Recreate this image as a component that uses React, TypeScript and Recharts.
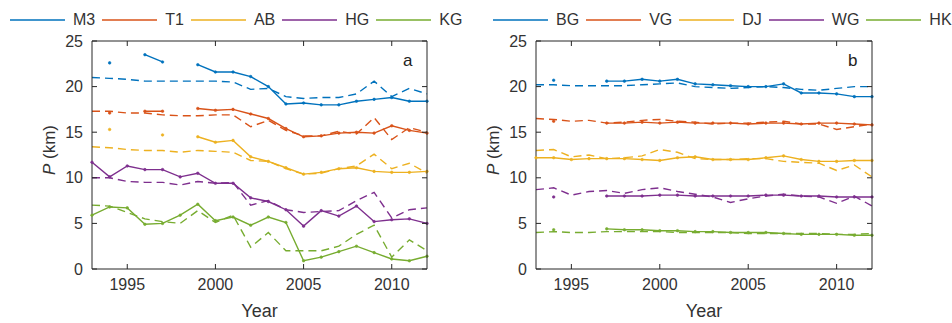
import React from 'react';
import { LineChart, Line, XAxis, YAxis } from 'recharts';

const YEARS = [1993, 1994, 1995, 1996, 1997, 1998, 1999, 2000, 2001, 2002, 2003, 2004, 2005, 2006, 2007, 2008, 2009, 2010, 2011, 2012];
const X_TICKS = [1995, 2000, 2005, 2010];
const Y_TICKS = [0, 5, 10, 15, 20, 25];
const X_DOMAIN = [1993, 2012];
const Y_DOMAIN = [0, 25];
const COLORS = ['#0072BD', '#D95319', '#EDB120', '#7E2F8E', '#77AC30'];

// Panel a
const NAMES_A = ['M3', 'T1', 'AB', 'HG', 'KG'];
const M3_OBS = [null, 22.6, null, 23.5, 22.7, null, 22.4, 21.6, 21.6, 21.1, 20.0, 18.1, 18.2, 18.0, 18.0, 18.4, 18.6, 18.8, 18.4, 18.4];
const M3_MOD = [21.0, 20.9, 20.8, 20.6, 20.6, 20.6, 20.6, 20.6, 20.5, 19.7, 19.8, 18.9, 18.7, 18.8, 18.8, 19.2, 20.6, 18.9, 19.8, 19.2];
const T1_OBS = [null, 17.1, null, 17.3, 17.3, null, 17.6, 17.4, 17.5, 17.0, 16.5, 15.4, 14.5, 14.6, 14.9, 15.0, 14.9, 15.7, 15.2, 14.9];
const T1_MOD = [17.3, 17.3, 17.1, 17.1, 16.9, 16.8, 16.8, 16.9, 16.9, 15.6, 16.3, 15.2, 14.6, 14.6, 15.1, 14.8, 16.6, 14.2, 15.5, 15.0];
const AB_OBS = [null, 15.3, null, null, 14.7, null, 14.5, 13.9, 14.1, 12.3, 11.8, 11.1, 10.4, 10.6, 11.0, 11.1, 10.7, 10.6, 10.6, 10.7];
const AB_MOD = [13.4, 13.3, 13.1, 13.0, 13.0, 12.8, 13.0, 12.9, 12.8, 11.9, 11.8, 11.0, 10.4, 10.5, 11.0, 11.3, 12.6, 11.0, 11.6, 10.5];
const HG_OBS = [11.7, 10.1, 11.3, 10.9, 10.9, 10.1, 10.5, 9.4, 9.4, 7.8, 7.4, 6.5, 4.7, 6.4, 5.8, 6.9, 5.2, 5.4, 5.5, 5.0];
const HG_MOD = [10.0, 10.0, 9.6, 9.5, 9.5, 9.2, 9.6, 9.4, 9.5, 7.0, 7.5, 6.5, 6.2, 6.3, 6.4, 7.5, 8.4, 5.6, 6.5, 6.7];
const KG_OBS = [5.9, 6.8, 6.7, 4.9, 5.0, 5.9, 7.1, 5.3, 5.7, 4.8, 5.7, 5.1, 0.9, 1.3, 1.9, 2.5, 1.8, 1.1, 0.9, 1.4];
const KG_MOD = [7.0, 6.9, 6.2, 5.5, 5.2, 5.0, 6.4, 5.1, 5.9, 2.4, 4.0, 2.0, 2.0, 2.0, 2.5, 3.8, 4.8, 1.3, 3.2, 2.0];

// Panel b
const NAMES_B = ['BG', 'VG', 'DJ', 'WG', 'HK'];
const BG_OBS = [null, 20.7, null, null, 20.6, 20.6, 20.8, 20.6, 20.8, 20.3, 20.2, 20.1, 20.0, 20.0, 20.3, 19.3, 19.3, 19.2, 18.9, 18.9];
const BG_MOD = [20.2, 20.2, 20.1, 20.1, 20.1, 20.1, 20.2, 20.3, 20.4, 20.0, 19.9, 19.8, 19.9, 20.0, 19.9, 19.7, 19.6, 19.8, 20.0, 20.0];
const VG_OBS = [null, 16.2, null, null, 16.0, 16.0, 16.1, 16.0, 16.1, 16.0, 16.0, 16.0, 15.9, 16.0, 16.0, 15.9, 16.0, 16.0, 15.9, 15.8];
const VG_MOD = [16.5, 16.4, 16.2, 16.3, 16.0, 16.1, 16.3, 16.4, 16.2, 16.1, 15.9, 16.0, 16.0, 16.1, 16.2, 15.9, 15.9, 15.3, 15.6, 15.9];
const DJ_OBS = [12.2, 12.2, 12.0, 12.1, 12.1, 12.1, 12.0, 11.9, 12.2, 12.3, 12.0, 12.0, 12.0, 12.2, 12.4, 12.0, 11.8, 11.8, 11.9, 11.9];
const DJ_MOD = [13.0, 13.1, 12.3, 12.5, 12.1, 12.2, 12.4, 13.1, 12.8, 12.1, 12.0, 12.0, 12.1, 12.1, 11.8, 11.7, 11.6, 10.8, 11.4, 10.1];
const WG_OBS = [null, 7.9, null, null, 8.0, 8.0, 8.0, 8.1, 8.1, 8.0, 8.0, 8.0, 8.0, 8.1, 8.1, 8.0, 8.0, 7.9, 7.9, 7.9];
const WG_MOD = [8.7, 8.9, 8.1, 8.5, 8.6, 8.3, 8.7, 8.9, 8.5, 8.2, 7.9, 7.3, 7.7, 8.0, 8.2, 8.0, 7.9, 7.2, 8.0, 6.9];
const HK_OBS = [null, 4.3, null, null, 4.4, 4.3, 4.3, 4.2, 4.2, 4.1, 4.1, 4.0, 4.0, 4.0, 3.9, 3.8, 3.8, 3.8, 3.7, 3.7];
const HK_MOD = [4.0, 4.1, 4.0, 4.0, 4.1, 4.1, 4.1, 4.1, 4.0, 4.0, 4.0, 4.0, 3.9, 3.9, 3.9, 3.9, 3.9, 3.8, 3.8, 3.9];

const OBS_A = [M3_OBS, T1_OBS, AB_OBS, HG_OBS, KG_OBS];
const MOD_A = [M3_MOD, T1_MOD, AB_MOD, HG_MOD, KG_MOD];
const OBS_B = [BG_OBS, VG_OBS, DJ_OBS, WG_OBS, HK_OBS];
const MOD_B = [BG_MOD, VG_MOD, DJ_MOD, WG_MOD, HK_MOD];

const FONT = '"Liberation Sans", Arial, Helvetica, sans-serif';
const AXIS_COLOR = '#262626';
const TEXT_COLOR = '#333333';

const CHART_W = 476;
const CHART_H = 323;
const M_TOP = 41;
const M_BOTTOM = 24;
const X_AXIS_H = 30;
const Y_AXIS_W = 40;

function buildRows(names: string[], obs: (number | null)[][], mod: (number | null)[][]) {
  return YEARS.map((yr, i) => {
    const row: any = { year: yr };
    names.forEach((n, k) => {
      row[n + '_obs'] = obs[k][i];
      row[n + '_mod'] = mod[k][i];
    });
    return row;
  });
}

const ROWS_A = buildRows(NAMES_A, OBS_A, MOD_A);
const ROWS_B = buildRows(NAMES_B, OBS_B, MOD_B);

function FrameSvg({ plotL, plotT, plotW, plotH }: any) {
  // MATLAB-style box: top and right edges with inward ticks
  const right = plotL + plotW;
  const bottom = plotT + plotH;
  return (
    <svg
      width={CHART_W}
      height={CHART_H}
      style={{ position: 'absolute', left: 0, top: 0, pointerEvents: 'none', overflow: 'visible' }}
    >
      <line x1={plotL} y1={plotT} x2={right} y2={plotT} stroke={AXIS_COLOR} strokeWidth={1} />
      <line x1={right} y1={plotT} x2={right} y2={bottom} stroke={AXIS_COLOR} strokeWidth={1} />
      {X_TICKS.map((t) => {
        const x = plotL + ((t - X_DOMAIN[0]) / (X_DOMAIN[1] - X_DOMAIN[0])) * plotW;
        return <line key={'t' + t} x1={x} y1={plotT} x2={x} y2={plotT + 5} stroke={AXIS_COLOR} strokeWidth={1} />;
      })}
      {Y_TICKS.map((v) => {
        const y = plotT + ((Y_DOMAIN[1] - v) / (Y_DOMAIN[1] - Y_DOMAIN[0])) * plotH;
        return <line key={'r' + v} x1={right} y1={y} x2={right - 5} y2={y} stroke={AXIS_COLOR} strokeWidth={1} />;
      })}
    </svg>
  );
}

function Panel({ names, rows, left, ml, mr, letter }: any) {
  const tickStyle = { fontSize: 16, fill: TEXT_COLOR, fontFamily: FONT };
  const plotL = ml + Y_AXIS_W;
  const plotW = CHART_W - plotL - mr;
  const plotT = M_TOP;
  const plotH = CHART_H - M_TOP - M_BOTTOM - X_AXIS_H;
  return (
    <div style={{ position: 'absolute', left, top: 0, width: CHART_W, height: CHART_H }}>
      <LineChart width={CHART_W} height={CHART_H} data={rows} margin={{ top: M_TOP, right: mr, bottom: M_BOTTOM, left: ml }}>
        <XAxis
          dataKey="year"
          type="number"
          domain={X_DOMAIN}
          ticks={X_TICKS}
          allowDecimals={false}
          height={X_AXIS_H}
          tickSize={-5}
          tickMargin={15}
          tick={tickStyle}
          stroke={AXIS_COLOR}
          axisLine={{ stroke: AXIS_COLOR, strokeWidth: 1 }}
          tickLine={{ stroke: AXIS_COLOR }}
        />
        <YAxis
          type="number"
          domain={Y_DOMAIN}
          ticks={Y_TICKS}
          width={Y_AXIS_W}
          tickSize={-5}
          tickMargin={14}
          tick={tickStyle}
          stroke={AXIS_COLOR}
          axisLine={{ stroke: AXIS_COLOR, strokeWidth: 1 }}
          tickLine={{ stroke: AXIS_COLOR }}
        />
        {names.map((n: string, k: number) => (
          <Line
            key={n + '_mod'}
            dataKey={n + '_mod'}
            stroke={COLORS[k]}
            strokeWidth={1.4}
            strokeDasharray="8 5"
            dot={false}
            isAnimationActive={false}
            connectNulls={false}
            type="linear"
          />
        ))}
        {names.map((n: string, k: number) => (
          <Line
            key={n + '_obs'}
            dataKey={n + '_obs'}
            stroke={COLORS[k]}
            strokeWidth={1.4}
            dot={{ r: 1.3, fill: COLORS[k], stroke: COLORS[k], strokeWidth: 0.6 }}
            isAnimationActive={false}
            connectNulls={false}
            type="linear"
          />
        ))}
      </LineChart>
      <FrameSvg plotL={plotL} plotT={plotT} plotW={plotW} plotH={plotH} />
      <div style={{ position: 'absolute', left: plotL - 42, top: 150, width: 0, height: 0 }}>
        <div
          style={{
            position: 'absolute',
            left: -60,
            top: -11,
            width: 120,
            textAlign: 'center',
            transform: 'rotate(-90deg)',
            fontFamily: FONT,
            fontSize: 17,
            color: TEXT_COLOR,
            lineHeight: '22px',
            whiteSpace: 'nowrap',
          }}
        >
          <i>P</i> (km)
        </div>
      </div>
      <div
        style={{
          position: 'absolute',
          left: plotL,
          width: plotW,
          top: 300,
          textAlign: 'center',
          fontFamily: FONT,
          fontSize: 18,
          color: TEXT_COLOR,
          lineHeight: '22px',
        }}
      >
        Year
      </div>
      <div
        style={{
          position: 'absolute',
          left: plotL + plotW - 24,
          top: 51,
          fontFamily: FONT,
          fontSize: 17,
          color: '#222',
          lineHeight: '20px',
        }}
      >
        {letter}
      </div>
    </div>
  );
}

function LegendRow({ names, left }: any) {
  return (
    <div
      style={{
        position: 'absolute',
        left,
        top: 9,
        height: 22,
        display: 'flex',
        alignItems: 'center',
        fontFamily: FONT,
        fontSize: 16,
        color: TEXT_COLOR,
        whiteSpace: 'nowrap',
      }}
    >
      {names.map((n: string, k: number) => (
        <div key={n} style={{ display: 'flex', alignItems: 'center', marginRight: 7 }}>
          <svg width={55} height={4} style={{ display: 'block', marginRight: 8 }}>
            <line x1={0} y1={2} x2={55} y2={2} stroke={COLORS[k]} strokeWidth={1.4} />
          </svg>
          <span>{n}</span>
        </div>
      ))}
    </div>
  );
}

export default function App() {
  return (
    <div style={{ position: 'absolute', left: 0, top: 0, width: 952, height: 323, background: '#fff', overflow: 'hidden' }}>
      <Panel names={NAMES_A} rows={ROWS_A} left={0} ml={52} mr={49} letter="a" />
      <Panel names={NAMES_B} rows={ROWS_B} left={476} ml={20} mr={80} letter="b" />
      <LegendRow names={NAMES_A} left={10} />
      <LegendRow names={NAMES_B} left={493} />
    </div>
  );
}
